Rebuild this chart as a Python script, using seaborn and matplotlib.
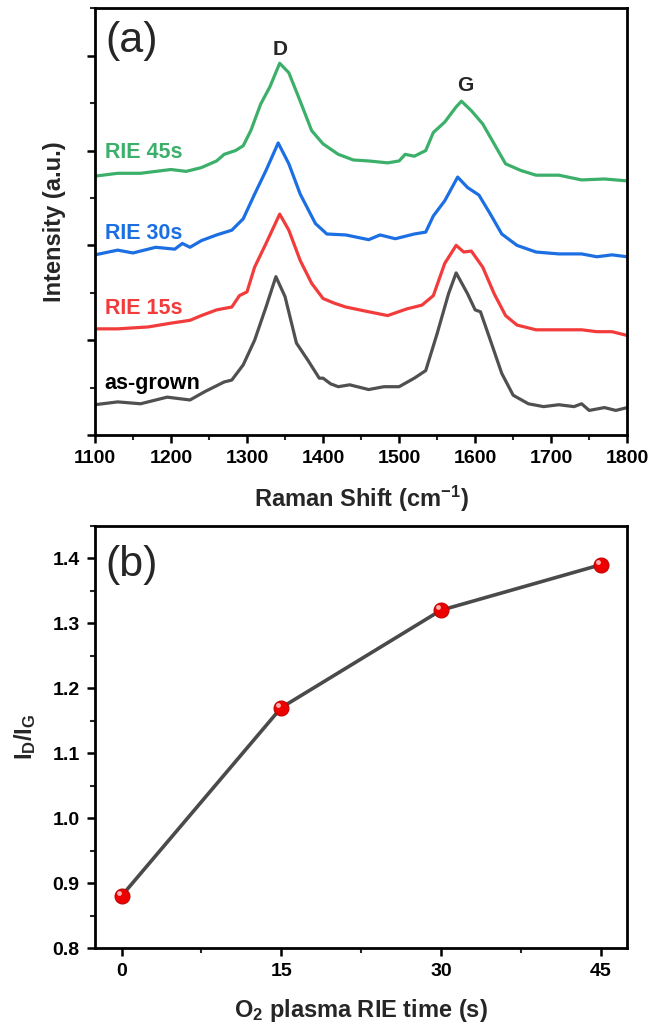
import matplotlib
matplotlib.use('Agg')
import matplotlib.pyplot as plt
from matplotlib.ticker import MultipleLocator, NullFormatter
from matplotlib.transforms import offset_copy
import seaborn as sns
import pandas as pd

# ---- (a) Raman spectra (offset units, arbitrary) ----
x_grown = [1100, 1130, 1160, 1195, 1225, 1245, 1270, 1280, 1295, 1310, 1325, 1338,
           1350, 1365, 1380, 1395, 1400, 1410, 1420, 1435, 1460, 1480, 1500, 1520,
           1535, 1550, 1565, 1575, 1590, 1600, 1607, 1620, 1635, 1650, 1670, 1690,
           1710, 1730, 1740, 1750, 1770, 1785, 1800]
y_grown = [0.32, 0.35, 0.33, 0.40, 0.37, 0.46, 0.56, 0.58, 0.74, 1.00, 1.35, 1.67,
           1.46, 0.97, 0.79, 0.60, 0.60, 0.54, 0.51, 0.53, 0.48, 0.51, 0.51, 0.60,
           0.68, 1.07, 1.49, 1.71, 1.49, 1.32, 1.30, 1.00, 0.65, 0.42, 0.33, 0.30,
           0.32, 0.30, 0.33, 0.26, 0.29, 0.26, 0.29]

x_15 = [1100, 1130, 1170, 1200, 1225, 1240, 1260, 1280, 1290, 1300, 1310, 1325,
        1343, 1355, 1370, 1385, 1400, 1415, 1430, 1460, 1485, 1510, 1530, 1545,
        1560, 1575, 1585, 1595, 1610, 1625, 1640, 1655, 1680, 1710, 1740, 1760,
        1780, 1800]
y_15 = [1.12, 1.12, 1.14, 1.18, 1.21, 1.26, 1.32, 1.35, 1.47, 1.51, 1.77, 2.02,
        2.33, 2.16, 1.84, 1.60, 1.44, 1.39, 1.35, 1.30, 1.26, 1.33, 1.37, 1.47,
        1.81, 2.00, 1.93, 1.94, 1.77, 1.49, 1.26, 1.16, 1.11, 1.11, 1.11, 1.09,
        1.09, 1.05]

x_30 = [1100, 1130, 1150, 1180, 1205, 1215, 1225, 1240, 1260, 1280, 1295, 1310,
        1325, 1341, 1355, 1370, 1390, 1405, 1430, 1460, 1475, 1495, 1520, 1535,
        1545, 1560, 1577, 1590, 1605, 1620, 1635, 1655, 1680, 1710, 1740, 1760,
        1780, 1800]
y_30 = [1.90, 1.95, 1.92, 1.98, 1.96, 2.02, 1.98, 2.05, 2.11, 2.16, 2.28, 2.54,
        2.79, 3.08, 2.86, 2.54, 2.23, 2.12, 2.11, 2.06, 2.11, 2.07, 2.12, 2.14,
        2.31, 2.47, 2.72, 2.61, 2.53, 2.33, 2.12, 2.00, 1.93, 1.91, 1.91, 1.88,
        1.90, 1.88]

x_45 = [1100, 1130, 1160, 1180, 1200, 1220, 1240, 1260, 1270, 1285, 1295, 1305,
        1318, 1330, 1343, 1355, 1368, 1385, 1400, 1420, 1440, 1460, 1485, 1500,
        1508, 1520, 1535, 1545, 1560, 1575, 1582, 1595, 1610, 1625, 1640, 1660,
        1680, 1710, 1740, 1770, 1800]
y_45 = [2.73, 2.76, 2.76, 2.78, 2.80, 2.78, 2.82, 2.89, 2.96, 3.00, 3.05, 3.21,
        3.49, 3.67, 3.92, 3.82, 3.56, 3.21, 3.07, 2.96, 2.90, 2.89, 2.87, 2.89,
        2.96, 2.94, 3.00, 3.19, 3.30, 3.46, 3.52, 3.42, 3.28, 3.07, 2.86, 2.79,
        2.74, 2.74, 2.69, 2.70, 2.68]

samples = ['as-grown', 'RIE 15s', 'RIE 30s', 'RIE 45s']
colors = ['#505050', '#f23c3c', '#1c6fe3', '#3cb06a']
label_colors = ['black', '#f23c3c', '#1c6fe3', '#3cb06a']
label_y = [0.54, 1.33, 2.12, 2.98]

# ---- (b) ID/IG ratio ----
rie_time = [0, 15, 30, 45]
id_ig = [0.88, 1.17, 1.32, 1.39]

# Arial-like fonts
sns.set_theme(style="ticks")
plt.rcParams['font.family'] = ['Liberation Sans', 'DejaVu Sans']
plt.rcParams['mathtext.fontset'] = 'custom'
plt.rcParams['mathtext.rm'] = 'Liberation Sans:bold'
plt.rcParams['mathtext.bf'] = 'Liberation Sans:bold'
plt.rcParams['mathtext.default'] = 'bf'

spectra = pd.concat([
    pd.DataFrame({'shift': x_grown, 'intensity': y_grown, 'sample': samples[0]}),
    pd.DataFrame({'shift': x_15, 'intensity': y_15, 'sample': samples[1]}),
    pd.DataFrame({'shift': x_30, 'intensity': y_30, 'sample': samples[2]}),
    pd.DataFrame({'shift': x_45, 'intensity': y_45, 'sample': samples[3]}),
], ignore_index=True)

fig = plt.figure(figsize=(6.5, 10.31), dpi=100)
ax1 = fig.add_axes([0.146, 0.578, 0.819, 0.414])
ax2 = fig.add_axes([0.146, 0.0805, 0.819, 0.4095])


def style_axes(ax):
    for s in ax.spines.values():
        s.set_linewidth(2.0)
        s.set_color('black')
    ax.tick_params(which='major', direction='out', length=6, width=1.8,
                   labelsize=14, colors='black', top=False, right=False, pad=5)
    ax.tick_params(which='minor', direction='out', length=3.5, width=1.5,
                   top=False, right=False)
    for lab in ax.get_xticklabels() + ax.get_yticklabels():
        lab.set_fontweight('bold')


# ---- panel (a) ----
sns.lineplot(data=spectra, x='shift', y='intensity', hue='sample',
             hue_order=samples, palette=colors, linewidth=2.3,
             legend=False, ax=ax1, estimator=None, sort=False)
ax1.set_xlim(1100, 1800)
ax1.set_ylim(0, 4.5)
ax1.xaxis.set_major_locator(MultipleLocator(100))
ax1.xaxis.set_minor_locator(MultipleLocator(50))
ax1.yaxis.set_major_locator(MultipleLocator(1))
ax1.yaxis.set_minor_locator(MultipleLocator(0.5))
ax1.yaxis.set_major_formatter(NullFormatter())
style_axes(ax1)
ax1.set_xlabel('Raman Shift (cm$^{-1}$)', fontsize=17, fontweight='bold', labelpad=12)
ax1.set_ylabel('Intensity (a.u.)', fontsize=17, fontweight='bold', labelpad=10)

for name, c, ly in zip(samples, label_colors, label_y):
    ax1.text(1113, ly, name, color=c, fontsize=15.5, fontweight='bold',
             va='center', ha='left')
ax1.text(1343, 4.07, 'D', fontsize=15, fontweight='bold', ha='center', va='center')
ax1.text(1587, 3.69, 'G', fontsize=15, fontweight='bold', ha='center', va='center')
ax1.text(0.02, 0.97, '(a)', transform=ax1.transAxes, fontsize=31,
         ha='left', va='top')

# ---- panel (b) ----
ratio = pd.DataFrame({'time': rie_time, 'ratio': id_ig})
sns.lineplot(data=ratio, x='time', y='ratio', color='#4a4a4a', linewidth=2.6, ax=ax2)
sns.scatterplot(data=ratio, x='time', y='ratio', color='#ee0000', s=115,
                edgecolor='#c00000', linewidth=0.8, zorder=3, ax=ax2)
# small glossy highlight, shifted up-left of each sphere
hl = offset_copy(ax2.transData, fig=fig, x=-2, y=2, units='points')
ax2.scatter(rie_time, id_ig, s=12, color='#ffb0b0', linewidths=0,
            zorder=4, transform=hl)
ax2.set_xlim(-2.5, 47.5)
ax2.set_ylim(0.8, 1.45)
ax2.xaxis.set_major_locator(MultipleLocator(15))
ax2.xaxis.set_minor_locator(MultipleLocator(7.5))
ax2.yaxis.set_major_locator(MultipleLocator(0.1))
ax2.yaxis.set_minor_locator(MultipleLocator(0.05))
ax2.yaxis.set_major_formatter(plt.FuncFormatter(lambda v, p: f'{v:.1f}'))
style_axes(ax2)
ax2.set_xlabel('O$_2$ plasma RIE time (s)', fontsize=17, fontweight='bold', labelpad=12)
ax2.set_ylabel('I$_D$/I$_G$', fontsize=17, fontweight='bold', labelpad=10)
ax2.text(0.02, 0.955, '(b)', transform=ax2.transAxes, fontsize=31,
         ha='left', va='top')

fig.savefig('out.png', dpi=100)
